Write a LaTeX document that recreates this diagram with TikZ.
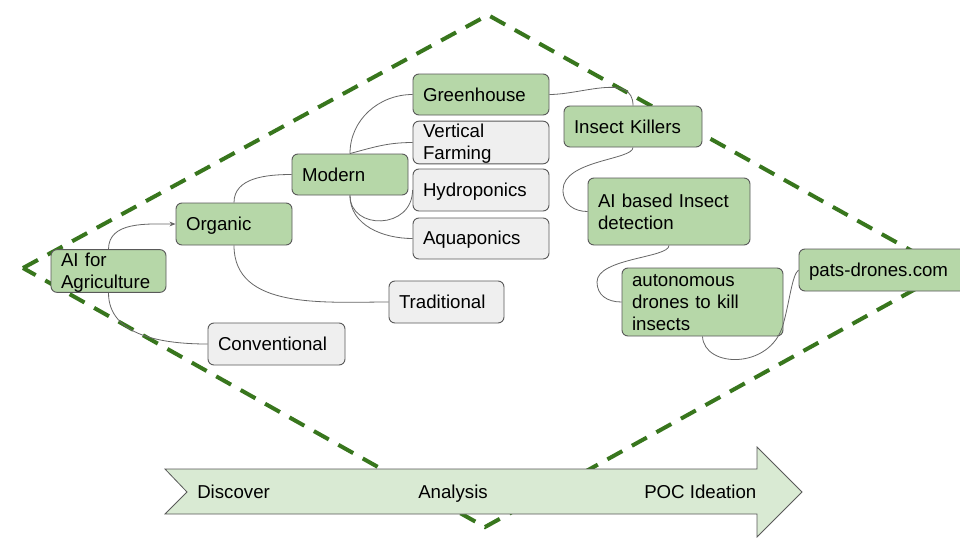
\documentclass[tikz,border=0pt]{standalone}
\usepackage{fontspec}
\setmainfont{Liberation Sans}
\usetikzlibrary{arrows.meta}
\definecolor{dgreen}{HTML}{38761D}
\definecolor{boxgreen}{HTML}{B6D7A8}
\definecolor{boxgrey}{HTML}{EFEFEF}
\definecolor{lightgreen}{HTML}{D9EAD3}
\definecolor{edge}{HTML}{595959}
\definecolor{conn}{HTML}{666666}
\newcommand\ls{\rule[-0.2em]{0pt}{1.1em}}
\tikzset{
  basebox/.style={draw=edge, line width=0.7pt, rounded corners=4.5pt, inner xsep=7.5pt, inner ysep=0pt, align=left, font=\fontsize{14}{16.5}\selectfont},
  gbox/.style={basebox, fill=boxgreen},
  ybox/.style={basebox, fill=boxgrey},
  conline/.style={draw=conn, line width=0.6pt},
  lbl/.style={anchor=west, inner sep=0pt, font=\fontsize{14}{16.5}\selectfont}
}
\begin{document}
\begin{tikzpicture}[x=0.75pt,y=-0.75pt]
\useasboundingbox[fill=white] (0,0) rectangle (960,540);
% dashed diamond
\draw[dgreen, line width=3pt, dash pattern=on 12.75pt off 8.25pt] (23,268) -- (488,15) -- (948,271) -- (485,527) -- cycle;
% process arrow
\draw[draw=edge, line width=0.6pt, fill=lightgreen] (165,469) -- (757,469) -- (757,447) -- (802,492) -- (757,537) -- (757,514) -- (165,514) -- (187,492) -- cycle;
\node[lbl] (disc) at (197,492) {\ls Discover};
\node[lbl] (anal) at (418,492) {\ls Analysis};
\node[lbl] (poc) at (644,492) {\ls POC Ideation};
% boxes
\node[gbox, minimum height=31.5pt, text width=71.25pt] (ai) at (108.5,271) {\ls AI for\\\ls Agriculture};
\node[gbox, minimum height=31.5pt, text width=72pt] (org) at (234,224) {\ls Organic};
\node[gbox, minimum height=30.75pt, text width=72pt] (mod) at (350,174.5) {\ls Modern};
\node[gbox, minimum height=30.75pt, text width=87pt] (gh) at (481,94.5) {\ls Greenhouse};
\node[ybox, minimum height=30.75pt, text width=87pt] (vf) at (481,142.5) {\ls Vertical\\\ls Farming};
\node[ybox, minimum height=31.5pt, text width=87pt] (hy) at (481,190) {\ls Hydroponics};
\node[ybox, minimum height=30.75pt, text width=87pt] (aq) at (481,238.5) {\ls Aquaponics};
\node[ybox, minimum height=31.5pt, text width=71.25pt] (tr) at (446.5,302) {\ls Traditional};
\node[ybox, minimum height=31.5pt, text width=87.75pt] (cv) at (276.5,344) {\ls Conventional};
\node[gbox, minimum height=30.75pt, text width=88.5pt] (ik) at (633,126.5) {\ls Insect Killers};
\node[gbox, minimum height=50.25pt, text width=106.5pt] (ab) at (669,211.5) {\ls AI based Insect\\\ls detection};
\node[gbox, minimum height=51pt, text width=105.75pt] (au) at (702.5,302) {\ls autonomous\\\ls drones to kill\\\ls insects};
\node[gbox, minimum height=31.5pt, text width=117pt] (pd) at (887,270) {\ls pats-drones.com};
% connectors
\draw[conline, -{Stealth[length=4.5pt,width=3.5pt]}] (ai.north) to[out=90,in=180] (org.west);
\draw[conline] (ai.south) to[out=-90,in=180] (cv.west);
\draw[conline] (org.north) to[out=90,in=180] (mod.west);
\draw[conline] (org.south) to[out=-90,in=180] (tr.west);
\draw[conline] (mod.north) to[out=90,in=180] (gh.west);
\draw[conline] (mod.north) to[out=15,in=180] (vf.west);
\draw[conline] (mod.south) .. controls +(0,35) and +(0,40) .. (hy.west);
\draw[conline] (mod.south) to[out=-90,in=180] (aq.west);
\draw[conline] (gh.east) to[out=0,in=90] (ik.north);
\draw[conline] (ik.south) .. controls (633,160) and (563,160) .. (563,190) .. controls (563,205) and (575,211.5) .. (ab.west);
\draw[conline] (ab.south) .. controls (669,258) and (597,258) .. (597,282) .. controls (597,295) and (607,302) .. (au.west);
\draw[conline] (au.south) .. controls (704,368) and (770,370) .. (783,325) .. controls (790,300) and (792,275) .. (pd.west);
\end{tikzpicture}
\end{document}
